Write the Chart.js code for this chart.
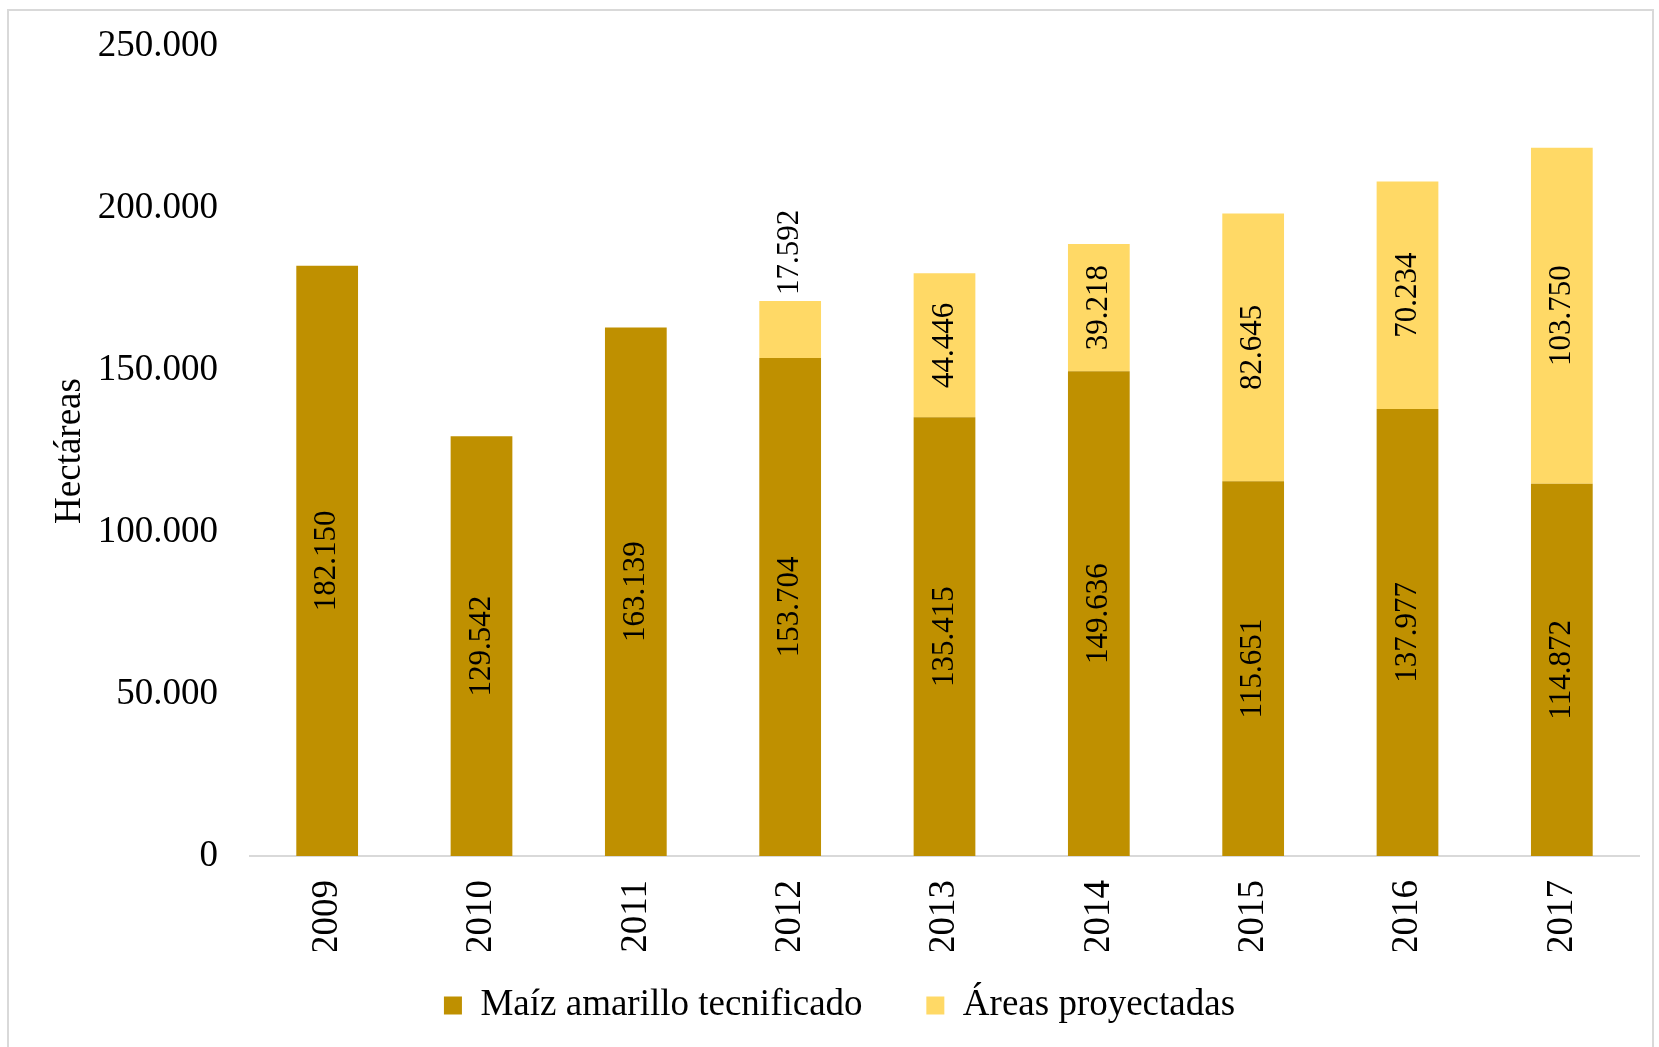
<!DOCTYPE html>
<html>
<head>
<meta charset="utf-8">
<script src="https://cdn.jsdelivr.net/npm/chart.js@4.4.1/dist/chart.umd.min.js"></script>
<style>
  html, body { margin: 0; padding: 0; background: #fff; }
  #frame { position: absolute; left: 7px; top: 9px; width: 1647px; height: 1100px;
           border: 2px solid #d9d9d9; box-sizing: border-box; }
  #wrap { position: absolute; left: 0; top: 0; width: 1659px; height: 1047px; }
</style>
</head>
<body>
<div id="frame"></div>
<div id="wrap"><canvas id="barras"></canvas></div>
<script>
const years = ["2009", "2010", "2011", "2012", "2013", "2014", "2015", "2016", "2017"];
const maizTecnificado = [182150, 129542, 163139, 153704, 135415, 149636, 115651, 137977, 114872];
const areasProyectadas = [null, null, null, 17592, 44446, 39218, 82645, 70234, 103750];
const yTicks = [0, 50000, 100000, 150000, 200000, 250000];

const serif = "'Liberation Serif', 'Times New Roman', serif";

function fmt(v) {
  return String(v).replace(/\B(?=(\d{3})+(?!\d))/g, ".");
}

// rotated value labels inside / above each bar segment
const barLabels = {
  id: "barLabels",
  afterDatasetsDraw(chart) {
    const ctx = chart.ctx;
    ctx.save();
    ctx.font = "31px " + serif;
    ctx.fillStyle = "#000";
    ctx.textBaseline = "middle";
    chart.data.datasets.forEach((ds, i) => {
      const meta = chart.getDatasetMeta(i);
      meta.data.forEach((bar, j) => {
        const v = ds.data[j];
        if (v == null) return;
        const txt = fmt(v);
        const w = ctx.measureText(txt).width;
        const h = Math.abs(bar.base - bar.y);
        ctx.save();
        if (w + 10 > h) {
          ctx.translate(bar.x, bar.y - 6);
          ctx.rotate(-Math.PI / 2);
          ctx.textAlign = "left";
        } else {
          ctx.translate(bar.x, (bar.y + bar.base) / 2);
          ctx.rotate(-Math.PI / 2);
          ctx.textAlign = "center";
        }
        ctx.fillText(txt, 0, 0);
        ctx.restore();
      });
    });
    ctx.restore();
  }
};

new Chart(document.getElementById("barras"), {
  type: "bar",
  data: {
    labels: years,
    datasets: [{
      label: "Maíz amarillo tecnificado",
      data: maizTecnificado,
      backgroundColor: "#bf9000",
      categoryPercentage: 0.4,
      barPercentage: 1
    }, {
      label: "Áreas proyectadas",
      data: areasProyectadas,
      backgroundColor: "#ffd966",
      categoryPercentage: 0.4,
      barPercentage: 1
    }]
  },
  options: {
    responsive: true,
    maintainAspectRatio: false,
    animation: false,
    layout: { padding: { left: 40, right: 20, top: 46, bottom: 13 } },
    scales: {
      x: {
        stacked: true,
        grid: { display: false, drawTicks: false },
        border: { color: "#d9d9d9", width: 2 },
        ticks: {
          color: "#000",
          font: { family: serif, size: 37 },
          minRotation: 90,
          maxRotation: 90,
          padding: 24
        },
        afterFit(scale) { scale.height = 95; }
      },
      y: {
        stacked: true,
        min: 0,
        max: 250000,
        afterBuildTicks(scale) { scale.ticks = yTicks.map(v => ({ value: v })); },
        grid: { display: false, drawTicks: false },
        border: { display: false },
        ticks: {
          color: "#000",
          font: { family: serif, size: 37 },
          padding: 32,
          callback: (v) => fmt(v)
        },
        title: {
          display: true,
          text: "Hectáreas",
          color: "#000",
          font: { family: serif, size: 37 },
          padding: { top: 8, bottom: 0 }
        },
        afterFit(scale) {
          scale.width = 210;
          scale.paddingTop = 0;
          scale.paddingBottom = 0;
        }
      }
    },
    plugins: {
      legend: {
        position: "bottom",
        labels: {
          color: "#000",
          font: { family: serif, size: 37 },
          boxWidth: 18,
          boxHeight: 18,
          padding: 36,
          generateLabels(chart) {
            const items = Chart.defaults.plugins.legend.labels.generateLabels(chart);
            items[0].text = items[0].text + "   ";
            return items;
          }
        }
      },
      tooltip: { enabled: false },
      title: { display: false }
    }
  },
  plugins: [barLabels]
});
</script>
</body>
</html>
